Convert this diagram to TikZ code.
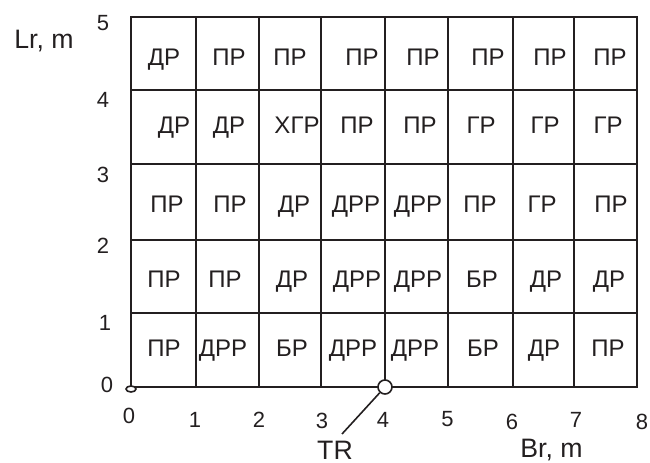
\documentclass[tikz,border=0pt]{standalone}
\usepackage{fontspec}
\setmainfont{Liberation Sans}
\usetikzlibrary{shapes.geometric}
\definecolor{ink}{HTML}{231F20}
\begin{document}
\begin{tikzpicture}[x=0.75pt,y=-0.75pt,
  gridline/.style={draw=ink,line width=1.8pt},
  cell/.style={anchor=base,inner sep=0pt,text=ink,font=\fontsize{18}{18}\selectfont},
  tick/.style={anchor=center,inner sep=0pt,text=ink,font=\fontsize{16.5}{16.5}\selectfont},
  axtitle/.style={anchor=base,inner sep=0pt,text=ink,font=\fontsize{20}{20}\selectfont}]
\useasboundingbox (0,0) rectangle (650,463);
% grid
\foreach \x in {196,259,321,385,448,513,574} {\draw[gridline] (\x,17) -- (\x,387);}
\foreach \y in {90,164,240,313} {\draw[gridline] (131,\y) -- (637,\y);}
\draw[gridline,line width=2.1pt] (131,17) rectangle (637,387);
% row 1
\node[cell] (r1c1) at (164,65.5) {ДР};
\node[cell] (r1c2) at (229,65.5) {ПР};
\node[cell] (r1c3) at (290,65.5) {ПР};
\node[cell] (r1c4) at (362,65.5) {ПР};
\node[cell] (r1c5) at (423,65.5) {ПР};
\node[cell] (r1c6) at (488,65.5) {ПР};
\node[cell] (r1c7) at (550,65.5) {ПР};
\node[cell] (r1c8) at (610,65.5) {ПР};
% row 2
\node[cell] (r2c1) at (174,134) {ДР};
\node[cell] (r2c2) at (229,134) {ДР};
\node[cell] (r2c3) at (297,134) {ХГР};
\node[cell] (r2c4) at (357,134) {ПР};
\node[cell] (r2c5) at (420,134) {ПР};
\node[cell] (r2c6) at (481,134) {ГР};
\node[cell] (r2c7) at (545,134) {ГР};
\node[cell] (r2c8) at (608,134) {ГР};
% row 3
\node[cell] (r3c1) at (167,213) {ПР};
\node[cell] (r3c2) at (230,213) {ПР};
\node[cell] (r3c3) at (294,213) {ДР};
\node[cell] (r3c4) at (356,213) {ДРР};
\node[cell] (r3c5) at (418,213) {ДРР};
\node[cell] (r3c6) at (480,213) {ПР};
\node[cell] (r3c7) at (542,213) {ГР};
\node[cell] (r3c8) at (611,213) {ПР};
% row 4
\node[cell] (r4c1) at (164,288) {ПР};
\node[cell] (r4c2) at (225,288) {ПР};
\node[cell] (r4c3) at (292,288) {ДР};
\node[cell] (r4c4) at (357,288) {ДРР};
\node[cell] (r4c5) at (418,288) {ДРР};
\node[cell] (r4c6) at (482,288) {БР};
\node[cell] (r4c7) at (546,288) {ДР};
\node[cell] (r4c8) at (609,288) {ДР};
% row 5
\node[cell] (r5c1) at (164,357) {ПР};
\node[cell] (r5c2) at (223,357) {ДРР};
\node[cell] (r5c3) at (292,357) {БР};
\node[cell] (r5c4) at (353,357) {ДРР};
\node[cell] (r5c5) at (415,357) {ДРР};
\node[cell] (r5c6) at (483,357) {БР};
\node[cell] (r5c7) at (544,357) {ДР};
\node[cell] (r5c8) at (608,357) {ПР};
% y ticks
\node[tick] (y5) at (103,23.5) {5};
\node[tick] (y4) at (103,100) {4};
\node[tick] (y3) at (103,175) {3};
\node[tick] (y2) at (103,245.5) {2};
\node[tick] (y1) at (105,322.5) {1};
\node[tick] (y0) at (107,385) {0};
% x ticks
\node[tick] (x0) at (129,415.5) {0};
\node[tick] (x1) at (195,420) {1};
\node[tick] (x2) at (259,420) {2};
\node[tick] (x3) at (322,420.5) {3};
\node[tick] (x4) at (383,420) {4};
\node[tick] (x5) at (447.5,419.5) {5};
\node[tick] (x6) at (512,421.5) {6};
\node[tick] (x7) at (576,420) {7};
\node[tick] (x8) at (642,422) {8};
% axis titles
\node[axtitle] (lr) at (44,49) {Lr, m};
\node[axtitle] (br) at (551.5,457) {Br, m};
\node[axtitle] (trlabel) at (335,459) {TR};
% markers
\node[ellipse,draw=ink,line width=1.2pt,fill=white,minimum width=10pt*0.75,minimum height=6pt*0.75,inner sep=0pt] (origin) at (131,389) {};
\node[circle,draw=ink,line width=1.2pt,fill=white,minimum size=14*0.75pt,inner sep=0pt] (trc) at (385,387) {};
\coordinate (trend) at (342,434);
\draw[draw=ink,line width=1.2pt] (trc) -- (trend);
\end{tikzpicture}
\end{document}
